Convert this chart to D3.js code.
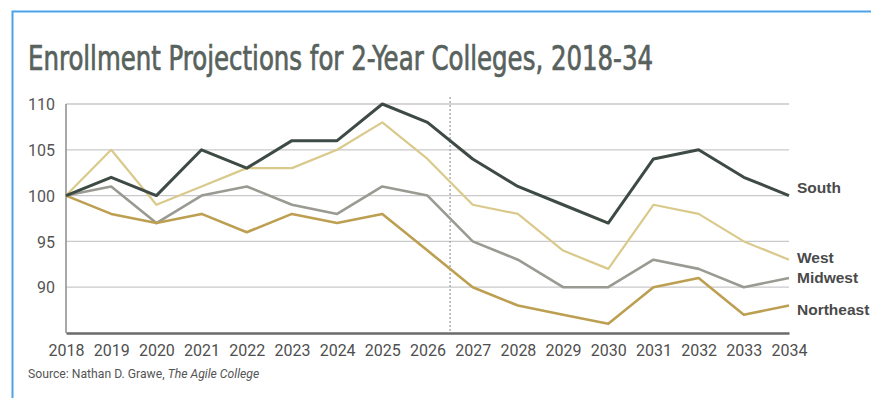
<!DOCTYPE html>
<html>
<head>
<meta charset="utf-8">
<script src="https://cdn.jsdelivr.net/npm/d3@7"></script>
<style>
  html, body { margin: 0; padding: 0; background: #fff; }
  svg { display: block; }
</style>
</head>
<body>
<svg id="chart" width="871" height="398"></svg>
<script>
const years = [2018, 2019, 2020, 2021, 2022, 2023, 2024, 2025, 2026, 2027, 2028, 2029, 2030, 2031, 2032, 2033, 2034];
const south     = [100, 102, 100, 105, 103, 106, 106, 110, 108, 104, 101, 99, 97, 104, 105, 102, 100];
const west      = [100, 105, 99, 101, 103, 103, 105, 108, 104, 99, 98, 94, 92, 99, 98, 95, 93];
const midwest   = [100, 101, 97, 100, 101, 99, 98, 101, 100, 95, 93, 90, 90, 93, 92, 90, 91];
const northeast = [100, 98, 97, 98, 96, 98, 97, 98, 94, 90, 88, 87, 86, 90, 91, 87, 88];
const yTicks = [90, 95, 100, 105, 110];
const seriesNames = ["South", "West", "Midwest", "Northeast"];
const projectionStart = 2026.5;

const series = [
  { name: seriesNames[0], values: south,     color: "#3e4a44", width: 3,   labelY: 192.5 },
  { name: seriesNames[1], values: west,      color: "#d9ca8c", width: 2.2, labelY: 262.5 },
  { name: seriesNames[2], values: midwest,   color: "#9a9a93", width: 2.6, labelY: 283 },
  { name: seriesNames[3], values: northeast, color: "#bd9f52", width: 2.6, labelY: 315 }
];

const svg = d3.select("#chart");

// frame
svg.append("path")
  .attr("d", "M12.5,398 L12.5,11.5 L871,11.5")
  .attr("fill", "none").attr("stroke", "#4aa3ea").attr("stroke-width", 2);

const x = d3.scaleLinear().domain([2018, 2034]).range([66, 789]);
const y = d3.scaleLinear().domain([85, 110]).range([333, 104]);

// title
svg.append("text")
  .attr("x", 28).attr("y", 69.5)
  .attr("font-family", "'Liberation Sans Narrow', 'DejaVu Sans Condensed', 'Roboto', sans-serif")
  .attr("font-size", 33)
  .attr("fill", "#58625d").attr("stroke", "#58625d").attr("stroke-width", 0.7)
  .attr("textLength", 625).attr("lengthAdjust", "spacingAndGlyphs")
  .text("Enrollment Projections for 2-Year Colleges, 2018-34");

// gridlines
svg.append("g")
  .selectAll("line").data(yTicks).join("line")
  .attr("x1", x(2018)).attr("x2", x(2034))
  .attr("y1", d => y(d)).attr("y2", d => y(d))
  .attr("stroke", "#c9c9cc").attr("stroke-width", 1.3);

// y axis
const yAxis = d3.axisLeft(y).tickValues(yTicks).tickSize(0).tickPadding(11);
const yg = svg.append("g").attr("transform", `translate(${x(2018)},0)`).call(yAxis);
yg.select(".domain").attr("stroke", "#8c8c8c").attr("stroke-width", 1.5);
yg.selectAll("text")
  .attr("font-family", "Roboto, sans-serif").attr("font-size", 16)
  .attr("fill", "#555").attr("dy", "0.36em");

// x axis
const xAxis = d3.axisBottom(x).tickValues(years).tickFormat(d3.format("d")).tickSize(0).tickPadding(12);
const xg = svg.append("g").attr("transform", `translate(0,${y(85)})`).call(xAxis);
xg.select(".domain").attr("stroke", "#6a6a6a").attr("stroke-width", 2.5);
xg.selectAll("text")
  .attr("font-family", "Roboto, sans-serif").attr("font-size", 16)
  .attr("fill", "#4f4f4f");
// extend y axis line to bottom
yg.select(".domain").attr("d", `M0,${y(110)}V${y(85)}`);

// projection divider
svg.append("line")
  .attr("x1", x(projectionStart)).attr("x2", x(projectionStart))
  .attr("y1", 97).attr("y2", y(85))
  .attr("stroke", "#9a9aa8").attr("stroke-width", 1.2)
  .attr("stroke-dasharray", "2,2");

// lines
const line = d3.line().x((d, i) => x(years[i])).y(d => y(d));
const drawOrder = [series[1], series[2], series[3], series[0]];
svg.append("g").selectAll("path").data(drawOrder).join("path")
  .attr("d", d => line(d.values))
  .attr("fill", "none")
  .attr("stroke", d => d.color)
  .attr("stroke-width", d => d.width)
  .attr("stroke-linejoin", "round");

// labels
svg.append("g").selectAll("text").data(series).join("text")
  .attr("x", 797).attr("y", d => d.labelY)
  .attr("font-family", "'Liberation Sans', Arial, sans-serif")
  .attr("font-size", 15.5).attr("font-weight", "bold")
  .attr("fill", "#4a4a4a")
  .text(d => d.name);

// source
const src = svg.append("text")
  .attr("x", 28).attr("y", 378)
  .attr("font-family", "Roboto, sans-serif").attr("font-size", 12.2)
  .attr("fill", "#555");
src.append("tspan").text("Source: Nathan D. Grawe, ");
src.append("tspan").attr("font-style", "italic").text("The Agile College");
</script>
</body>
</html>
